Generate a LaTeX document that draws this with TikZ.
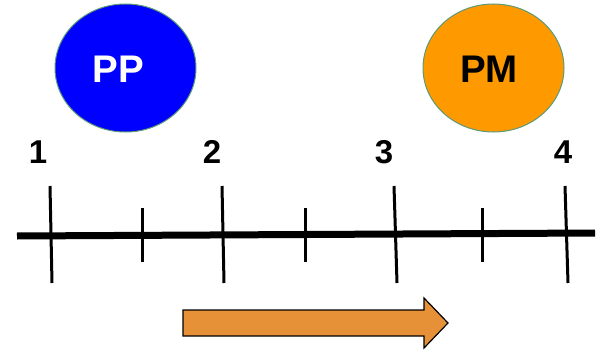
\documentclass[tikz,border=0pt]{standalone}
\usepackage{fontspec}
\setmainfont{Liberation Sans}
\usetikzlibrary{shapes.geometric}
\definecolor{ppblue}{HTML}{0000FF}
\definecolor{pmorange}{HTML}{FF9900}
\definecolor{arroworange}{HTML}{E69138}
\definecolor{rimgreen}{HTML}{5B9B7A}
\begin{document}
\begin{tikzpicture}[x=1pt,y=-1pt,
  ball/.style={ellipse,draw=rimgreen,line width=1pt,minimum width=141pt,minimum height=128pt,inner sep=0pt},
  numlabel/.style={font=\fontsize{33}{33}\selectfont\bfseries,text=black,inner sep=0pt},
  major/.style={line width=3pt,black},
  minor/.style={line width=3pt,black}]
\useasboundingbox (0,0) rectangle (596,350);
\node[ball,fill=ppblue] (pp) at (125.5,68) {};
\node[font=\fontsize{38.5}{38.5}\selectfont\bfseries,text=white] (pptext) at (118,69) {PP};
\node[ball,fill=pmorange] (pm) at (493.5,68) {};
\node[font=\fontsize{38.5}{38.5}\selectfont\bfseries,text=black] (pmtext) at (489,69) {PM};
\node[numlabel] (n1) at (38,152) {1};
\node[numlabel] (n2) at (212,152) {2};
\node[numlabel] (n3) at (384,152) {3};
\node[numlabel] (n4) at (563,152) {4};
\coordinate (lineL) at (17,236);
\coordinate (lineR) at (595,233);
\draw[line width=7pt,black] (lineL) -- (lineR);
\draw[major] (50,186) -- (52,283);
\draw[major] (222,186) -- (224,283);
\draw[major] (394,186) -- (397,283);
\draw[major] (565,186) -- (568,283);
\draw[minor] (142,208) -- (142,262);
\draw[minor] (305,208) -- (305,262);
\draw[minor] (482,208) -- (482,262);
\draw[fill=arroworange,draw=black,line width=1.2pt,line join=miter]
  (183,310) -- (424,310) -- (424,298) -- (448,323) -- (424,348) -- (424,336) -- (183,336) -- cycle;
\end{tikzpicture}
\end{document}
